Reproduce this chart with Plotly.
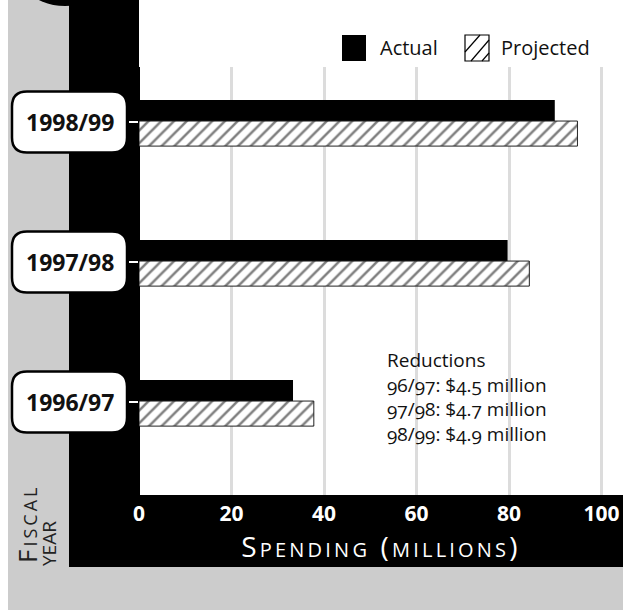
import plotly.graph_objects as go

# ---- data ----
years = ["1996/97", "1997/98", "1998/99"]
actual = [33.3, 79.7, 89.9]
projected = [37.8, 84.4, 94.8]
reduction_lines = ["96/97: $4.5 million", "97/98: $4.7 million", "98/99: $4.9 million"]
x_ticks = [0, 20, 40, 60, 80, 100]

# ---- geometry (pixels) ----
WID, HGT = 623, 610
L, R, T, B = 139, 623, 67, 495
PW, PH = R - L, B - T
Y_RANGE = [-0.664, 2.393]
X_RANGE = [0, 104.65]
PX_PER_CAT = PH / (Y_RANGE[1] - Y_RANGE[0])


def px(x):
    return (x - L) / PW


def py(y):
    return (B - y) / PH


FONT = "Open Sans"
GRAY = "#cccccc"

fig = go.Figure()
fig.add_trace(go.Bar(
    y=years, x=actual, orientation="h", name="Actual",
    marker=dict(color="black", line=dict(width=0)),
    offset=0.007, width=0.15, showlegend=False,
))
fig.add_trace(go.Bar(
    y=years, x=projected, orientation="h", name="Projected",
    marker=dict(color="white", line=dict(color="#222", width=1),
                pattern=dict(shape="/", fgcolor="black", bgcolor="white", size=9, solidity=0.28)),
    offset=-0.172, width=0.179, showlegend=False,
))

shapes = []
# page decoration
shapes.append(dict(type="rect", xref="paper", yref="paper", x0=px(0), x1=px(8), y0=py(610), y1=py(0),
                   fillcolor="white", line=dict(width=0), layer="below"))
shapes.append(dict(type="rect", xref="paper", yref="paper", x0=px(69), x1=px(L), y0=py(567), y1=py(0),
                   fillcolor="black", line=dict(width=0), layer="below"))
shapes.append(dict(type="rect", xref="paper", yref="paper", x0=px(69), x1=px(623), y0=py(567), y1=py(B),
                   fillcolor="black", line=dict(width=0), layer="below"))
shapes.append(dict(type="rect", xref="paper", yref="paper", x0=px(L), x1=px(623), y0=py(T), y1=py(0),
                   fillcolor="white", line=dict(width=0), layer="below"))
shapes.append(dict(type="circle", xref="paper", yref="paper", x0=px(5), x1=px(125), y0=py(6), y1=py(-114),
                   fillcolor="black", line=dict(width=0), layer="below"))

# rounded label boxes for categories
bx0, bx1 = px(12), px(127)
half = 30.5 / PX_PER_CAT
rx = 15 / PW
ry = 15 / PX_PER_CAT
for i, yr in enumerate(years):
    y0, y1 = i - half, i + half
    path = (f"M {bx0+rx},{y0} L {bx1-rx},{y0} Q {bx1},{y0} {bx1},{y0+ry} "
            f"L {bx1},{y1-ry} Q {bx1},{y1} {bx1-rx},{y1} L {bx0+rx},{y1} "
            f"Q {bx0},{y1} {bx0},{y1-ry} L {bx0},{y0+ry} Q {bx0},{y0} {bx0+rx},{y0} Z")
    shapes.append(dict(type="path", xref="paper", yref="y", path=path,
                       fillcolor="white", line=dict(color="black", width=2.5), layer="below"))

# manual legend
shapes.append(dict(type="rect", xref="paper", yref="paper", x0=px(342), x1=px(366), y0=py(61), y1=py(35),
                   fillcolor="black", line=dict(width=0), layer="above"))
lx0, lx1, ly0, ly1 = 465, 489, 35, 61
shapes.append(dict(type="rect", xref="paper", yref="paper", x0=px(lx0), x1=px(lx1), y0=py(ly1), y1=py(ly0),
                   fillcolor="white", line=dict(color="black", width=1.2), layer="above"))
for (a, b, c, d) in [(0, 17, 15, 0), (6, 26, 24, 5), (17, 26, 24, 18)]:
    shapes.append(dict(type="line", xref="paper", yref="paper",
                       x0=px(lx0 + a), y0=py(ly0 + b), x1=px(lx0 + c), y1=py(ly0 + d),
                       line=dict(color="black", width=1.2), layer="above"))

annotations = []
for i, yr in enumerate(years):
    annotations.append(dict(xref="paper", yref="y", x=px(69.5), y=i, text=f"<b>{yr}</b>",
                            showarrow=False, xanchor="center", yanchor="middle",
                            font=dict(family=FONT, size=23, color="#111")))
annotations.append(dict(xref="paper", yref="paper", x=px(378), y=py(47), text="Actual", showarrow=False,
                        xanchor="left", yanchor="middle", font=dict(family=FONT, size=20, color="#111")))
annotations.append(dict(xref="paper", yref="paper", x=px(499), y=py(47), text="Projected", showarrow=False,
                        xanchor="left", yanchor="middle", font=dict(family=FONT, size=20, color="#111")))
red_text = "<br>".join(["Reductions"] + [
    f'<span style="font-variant-numeric:oldstyle-nums">{s}</span>' for s in reduction_lines])
annotations.append(dict(xref="paper", yref="paper", x=px(385), y=py(345),
                        text=red_text, showarrow=False,
                        xanchor="left", yanchor="top", align="left",
                        font=dict(family=FONT, size=19, color="#111")))
annotations.append(dict(xref="paper", yref="paper", x=px(27), y=py(524),
                        text='<span style="letter-spacing:3px">Fiscal</span>', textangle=-90, showarrow=False,
                        xanchor="center", yanchor="middle",
                        font=dict(family=FONT, size=26, color="#222", variant="small-caps")))
annotations.append(dict(xref="paper", yref="paper", x=px(45), y=py(544),
                        text="year", textangle=-90, showarrow=False,
                        xanchor="center", yanchor="middle",
                        font=dict(family=FONT, size=27, color="#222", variant="small-caps")))

fig.update_layout(
    width=WID, height=HGT, autosize=False,
    margin=dict(l=L, r=WID - R, t=T, b=HGT - B, pad=0),
    paper_bgcolor=GRAY, plot_bgcolor="white",
    barmode="overlay",
    shapes=shapes, annotations=annotations,
    xaxis=dict(range=X_RANGE, tickvals=x_ticks, showgrid=True, gridcolor="#dcdcdc", gridwidth=3,
               zeroline=True, zerolinecolor="black", zerolinewidth=1, showline=False, ticks="",
               tickfont=dict(family=FONT, size=21, color="white", weight="bold"),
               ticklabelstandoff=4,
               title=dict(text='<span style="letter-spacing:3.2px">Spending (millions)</span>',
                          font=dict(family=FONT, size=28, color="white", variant="small-caps"),
                          standoff=2)),
    yaxis=dict(range=Y_RANGE, type="category", showgrid=False, zeroline=False, showline=False,
               showticklabels=False, ticks="outside", ticklen=9, tickwidth=1.5, tickcolor="white"),
)

fig.write_html("out.html", config={"displayModeBar": False},
               post_script="document.body.style.margin='0px';")
